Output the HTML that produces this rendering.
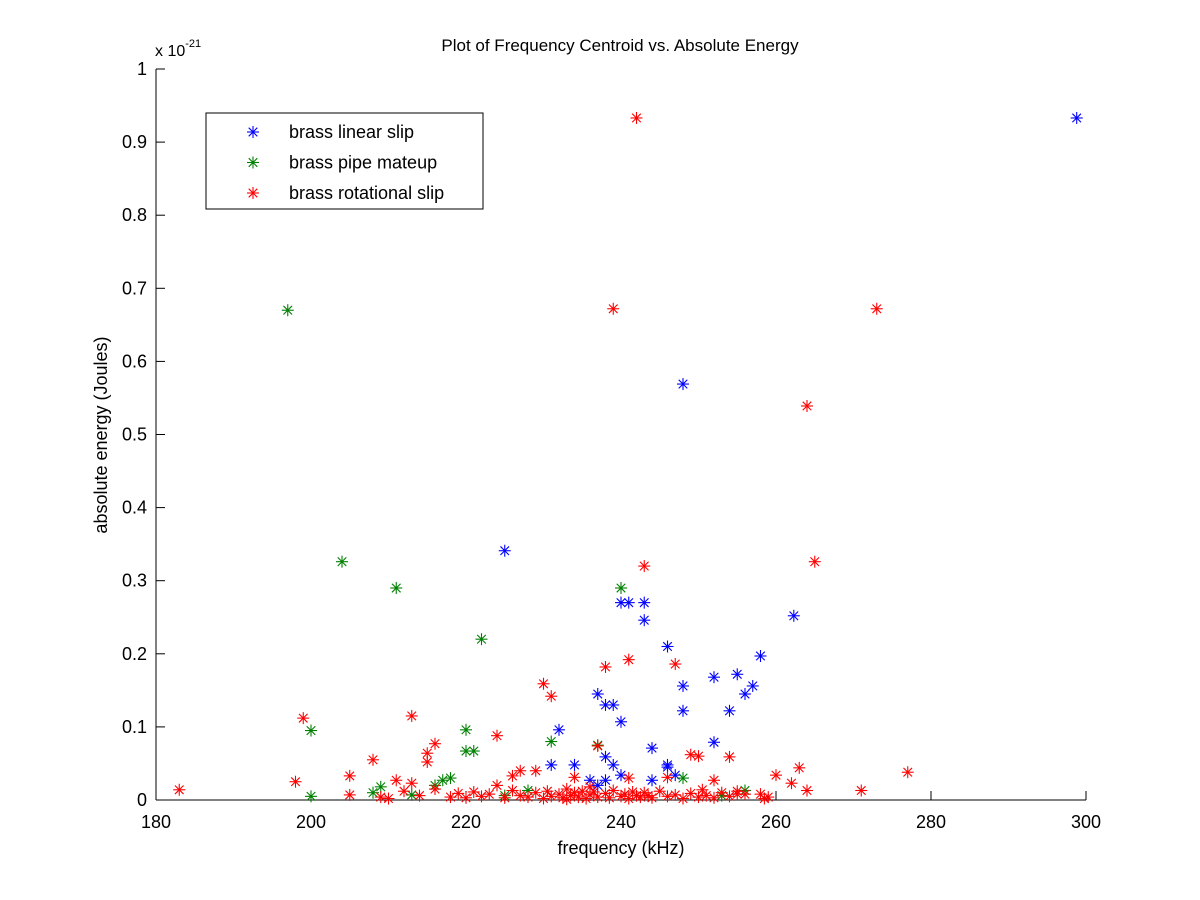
<!DOCTYPE html>
<html><head><meta charset="utf-8"><style>
body{margin:0;background:#fff}
svg{display:block;font-family:"Liberation Sans",Arial,sans-serif}
</style></head><body>
<svg id="chart" width="1200" height="900" viewBox="0 0 1200 900">
<rect x="0" y="0" width="1200" height="900" fill="#fff"/>
<g id="axes"></g>
<g id="marks"></g>
<text x="620" y="51" text-anchor="middle" font-size="17">Plot of Frequency Centroid vs. Absolute Energy</text>
<text x="621" y="854" text-anchor="middle" font-size="18">frequency (kHz)</text>
<text transform="translate(107,435) rotate(-90)" text-anchor="middle" font-size="18">absolute energy (Joules)</text>
<text x="155" y="56" font-size="16">x 10<tspan dy="-9" font-size="11">-21</tspan></text>
<g id="legend"></g>
</svg>
<script>
const xTicks=[180,200,220,240,260,280,300];
const yTicks=[0,0.1,0.2,0.3,0.4,0.5,0.6,0.7,0.8,0.9,1];
const yTickLabels=["0","0.1","0.2","0.3","0.4","0.5","0.6","0.7","0.8","0.9","1"];
const seriesNames=["brass linear slip","brass pipe mateup","brass rotational slip"];
const seriesColors=["#0000ff","#008000","#ff0000"];
const blueX=[298.8,248,225,262.3,240,241,243,243,246,258,248,252,255,257,256,254,248,237,238,239,240,232,244,252,231,234,238,239,246,247,244,236,238,240,237,246];
const blueY=[0.933,0.569,0.341,0.252,0.27,0.27,0.27,0.246,0.21,0.197,0.156,0.168,0.172,0.156,0.145,0.122,0.122,0.145,0.13,0.13,0.107,0.096,0.071,0.079,0.048,0.048,0.059,0.048,0.048,0.034,0.027,0.027,0.027,0.034,0.02,0.045];
const greenX=[197,204,211,222,240,220,200,220,221,231,237,209,208,217,216,213,200,225,228,253,256,248,218];
const greenY=[0.67,0.326,0.29,0.22,0.29,0.096,0.095,0.067,0.067,0.08,0.075,0.018,0.01,0.027,0.02,0.007,0.005,0.006,0.013,0.006,0.013,0.03,0.03];
const redX=[242,239,273,264,265,243,241,247,238,230,231,199,213,224,216,215,237,249,250,254,208,215,277,263,205,198,211,213,260,262,271,183,264,205,226,227,229,234,241,246,252,258,
209,210,212,214,216,218,219,220,221,222,223,225,226,227,228,229,230,230.5,231,232,232.5,233,233.5,234,234.5,235,235.5,236,236.5,237,238,238.5,239,240,240.5,241,241.5,242,242.5,243,244,245,246,247,248,249,250,250.5,251,252,253,254,255,256,259,258.5,224,236,243.5,233,255];
const redY=[0.933,0.672,0.672,0.539,0.326,0.32,0.192,0.186,0.182,0.159,0.142,0.112,0.115,0.088,0.077,0.064,0.074,0.062,0.06,0.059,0.055,0.052,0.038,0.044,0.033,0.025,0.027,0.023,0.034,0.023,0.013,0.014,0.013,0.007,0.033,0.04,0.04,0.031,0.03,0.031,0.027,0.008,
0.004,0.002,0.012,0.006,0.015,0.004,0.009,0.003,0.011,0.005,0.008,0.003,0.013,0.006,0.004,0.01,0.002,0.012,0.005,0.008,0.003,0.015,0.006,0.01,0.004,0.012,0.002,0.007,0.011,0.004,0.009,0.003,0.013,0.005,0.008,0.002,0.011,0.006,0.004,0.01,0.003,0.012,0.005,0.007,0.002,0.009,0.004,0.014,0.006,0.003,0.01,0.005,0.012,0.008,0.004,0.002,0.02,0.018,0.006,0.001,0.008];
const X0=156,X1=1086,Y0=800,Y1=69;
const xs=v=>X0+(v-180)/120*(X1-X0);
const ys=v=>Y0-v*(Y0-Y1);
const NS="http://www.w3.org/2000/svg";
function mk(t,a,p){const e=document.createElementNS(NS,t);for(const k in a)e.setAttribute(k,a[k]);p.appendChild(e);return e;}
const ax=document.getElementById('axes');
let l=mk('line',{x1:X0,y1:Y0,x2:X1,y2:Y0,stroke:'#000'},ax);


l=mk('line',{x1:X0,y1:Y0,x2:X0,y2:Y1,stroke:'#000'},ax);


xTicks.forEach(v=>{const x=xs(v);mk('line',{x1:x,y1:Y0,x2:x,y2:Y0-9,stroke:'#000'},ax);
const t=mk('text',{x:x,y:Y0+28,'text-anchor':'middle','font-size':18},ax);t.textContent=v;

});
yTicks.forEach((v,i)=>{const y=ys(v);mk('line',{x1:X0,y1:y,x2:X0+9,y2:y,stroke:'#000'},ax);
const t=mk('text',{x:X0-9,y:y+6,'text-anchor':'end','font-size':18},ax);t.textContent=yTickLabels[i];

});
const mg=document.getElementById('marks');
function star(x,y,c,p){const g=mk('g',{stroke:c,'stroke-width':1.1},p);const r=6,d=4.3;
mk('line',{x1:x-r,y1:y,x2:x+r,y2:y},g);mk('line',{x1:x,y1:y-r,x2:x,y2:y+r},g);
mk('line',{x1:x-d,y1:y-d,x2:x+d,y2:y+d},g);mk('line',{x1:x-d,y1:y+d,x2:x+d,y2:y-d},g);return g;}
[[blueX,blueY],[greenX,greenY],[redX,redY]].forEach((s,si)=>{s[0].forEach((v,i)=>{
if(s[1][i]===undefined)return;
const g=star(xs(v),ys(s[1][i]),seriesColors[si],mg);

});});
const lg=document.getElementById('legend');
const box=mk('rect',{x:206,y:113,width:277,height:96,fill:'#fff',stroke:'#000'},lg);


seriesNames.forEach((n,i)=>{const y=132+i*30.5;const g=star(253,y,seriesColors[i],lg);


const t=mk('text',{x:289,y:y+6,'font-size':18},lg);t.textContent=n;

});
</script>
</body></html>
